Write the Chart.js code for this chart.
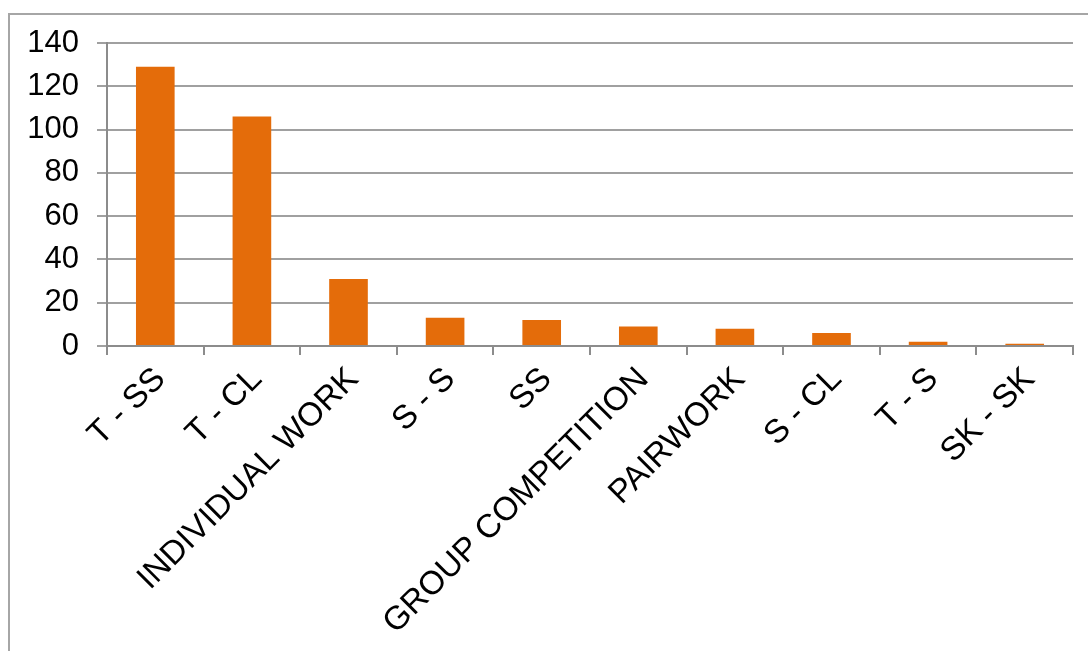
<!DOCTYPE html>
<html>
<head>
<meta charset="utf-8">
<script src="https://cdn.jsdelivr.net/npm/chart.js@4/dist/chart.umd.min.js"></script>
<style>
  html, body { margin: 0; padding: 0; background: #fff; overflow: hidden; }
  #frame {
    position: absolute; left: 8px; top: 13px;
    width: 1200px; height: 800px;
    border: 2px solid #a6a6a6;
  }
  #wrap { position: absolute; left: 0; top: 0; width: 1088px; height: 651px; }
</style>
</head>
<body>
<div id="frame"></div>
<div id="wrap"><canvas id="barChart"></canvas></div>
<script>
// Categories and values
const categories = ['T - SS', 'T - CL', 'INDIVIDUAL WORK', 'S - S', 'SS',
  'GROUP COMPETITION', 'PAIRWORK', 'S - CL', 'T - S', 'SK - SK'];
const counts = [129, 106, 31, 13, 12, 9, 8, 6, 2, 1];
const yTicks = [0, 20, 40, 60, 80, 100, 120, 140];

function initBarChart() {
  const ctx = document.getElementById('barChart');
  if (!ctx) return;

  new Chart(ctx, {
    type: 'bar',
    data: {
      labels: categories,
      datasets: [{
        data: counts,
        backgroundColor: '#E46C0A',
        borderWidth: 0,
        barPercentage: 0.4,
        categoryPercentage: 1.0
      }]
    },
    options: {
      responsive: true,
      maintainAspectRatio: false,
      animation: false,
      layout: { padding: { top: 43, right: 15, left: 0, bottom: 0 } },
      plugins: {
        legend: { display: false },
        tooltip: { enabled: false }
      },
      scales: {
        y: {
          min: 0,
          max: 140,
          afterBuildTicks: function(scale) {
            scale.ticks = yTicks.map(v => ({ value: v }));
          },
          afterFit: function(scale) { scale.width = 107; },
          ticks: {
            color: '#000',
            font: { family: '"Liberation Sans", Arial, sans-serif', size: 31 },
            padding: 18
          },
          grid: {
            color: '#a0a0a0',
            lineWidth: 2,
            tickLength: 10
          },
          border: { color: '#8c8c8c', width: 2 }
        },
        x: {
          afterFit: function(scale) { scale.height = 305; },
          ticks: {
            color: '#000',
            font: { family: '"Liberation Sans", Arial, sans-serif', size: 33 },
            minRotation: 45,
            maxRotation: 45,
            autoSkip: false,
            labelOffset: 5,
            padding: 5
          },
          grid: {
            drawOnChartArea: false,
            color: '#8c8c8c',
            lineWidth: 2,
            tickLength: 9
          },
          border: { color: '#8c8c8c', width: 2 }
        }
      }
    }
  });
}

document.addEventListener('DOMContentLoaded', function() {
  initBarChart();
});
</script>
</body>
</html>
